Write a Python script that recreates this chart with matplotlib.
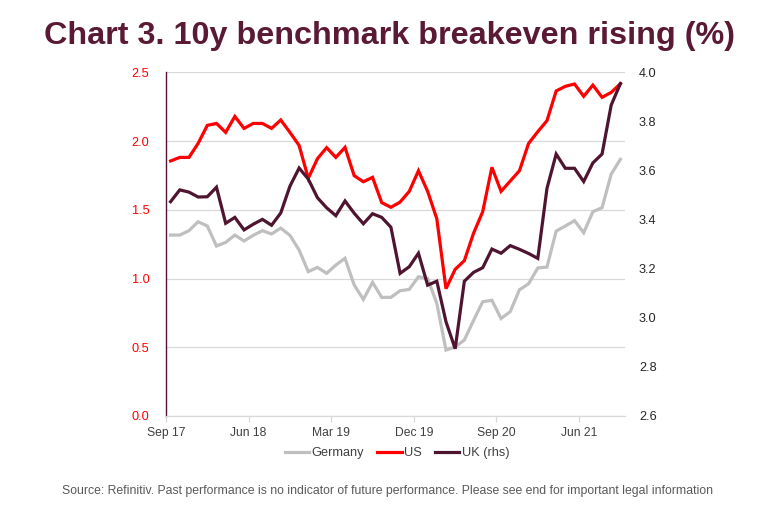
import matplotlib
matplotlib.use("Agg")
import matplotlib.pyplot as plt
from matplotlib.lines import Line2D

plt.rcParams['font.family'] = ['Liberation Sans', 'DejaVu Sans']

# ---- data (monthly, Sep 2017 - Oct 2021) ----
germany = [1.316, 1.316, 1.348, 1.413, 1.382, 1.236, 1.263, 1.316, 1.273, 1.314,
           1.348, 1.324, 1.367, 1.314, 1.207, 1.050, 1.081, 1.038, 1.098, 1.147,
           0.953, 0.848, 0.972, 0.863, 0.863, 0.911, 0.921, 1.013, 1.000, 0.820,
           0.480, 0.502, 0.553, 0.695, 0.831, 0.842, 0.709, 0.759, 0.918, 0.962,
           1.077, 1.083, 1.345, 1.382, 1.421, 1.333, 1.486, 1.515, 1.760, 1.867]
us = [1.855, 1.881, 1.881, 1.983, 2.114, 2.128, 2.063, 2.179, 2.092, 2.128,
      2.128, 2.092, 2.153, 2.063, 1.968, 1.729, 1.872, 1.952, 1.881, 1.954,
      1.748, 1.704, 1.736, 1.552, 1.518, 1.556, 1.634, 1.784, 1.634, 1.435,
      0.926, 1.067, 1.130, 1.329, 1.486, 1.809, 1.634, 1.709, 1.784, 1.983,
      2.068, 2.148, 2.364, 2.398, 2.415, 2.325, 2.407, 2.318, 2.354, 2.417]
uk = [3.473, 3.521, 3.512, 3.492, 3.493, 3.532, 3.385, 3.409, 3.358, 3.381,
      3.401, 3.377, 3.427, 3.536, 3.610, 3.565, 3.489, 3.448, 3.416, 3.476,
      3.426, 3.383, 3.424, 3.409, 3.369, 3.181, 3.208, 3.263, 3.133, 3.149,
      2.984, 2.874, 3.149, 3.185, 3.204, 3.280, 3.263, 3.294, 3.279, 3.262,
      3.242, 3.527, 3.667, 3.609, 3.609, 3.555, 3.631, 3.667, 3.867, 3.954]
tick_labels = ["Sep 17", "Jun 18", "Mar 19", "Dec 19", "Sep 20", "Jun 21"]
tick_months = [0, 9, 18, 27, 36, 45]
left_ticks = [0.0, 0.5, 1.0, 1.5, 2.0, 2.5]
right_ticks = [2.6, 2.8, 3.0, 3.2, 3.4, 3.6, 3.8, 4.0]

x = [i + 0.5 for i in range(len(us))]

C_GER = "#bfbfbf"
C_US = "#ff0000"
C_UK = "#4f1530"
C_TITLE = "#5a1a35"
C_GRID = "#d9d9d9"

fig = plt.figure(figsize=(7.8, 5.18), dpi=100)
ax = fig.add_axes([166/780, 1-416/518, (625-166)/780, (416-72.3)/518])
ax2 = ax.twinx()

ax.plot(x, germany, color=C_GER, lw=2.3, solid_joinstyle='miter')
ax.plot(x, us, color=C_US, lw=2.3, solid_joinstyle='miter')
ax2.plot(x, uk, color=C_UK, lw=2.3, solid_joinstyle='miter')

ax.set_xlim(0, 50)
ax.set_ylim(0, 2.5)
ax2.set_ylim(2.6, 4.0)
ax.set_yticks(left_ticks)
ax.set_yticklabels([f"{v:.1f}" for v in left_ticks])
ax2.set_yticks(right_ticks)
ax2.set_yticklabels([f"{v:.1f}" for v in right_ticks])
ax.set_xticks(tick_months)
ax.set_xticklabels(tick_labels)

ax.grid(axis='y', color=C_GRID, lw=0.9)
ax.set_axisbelow(True)
for s in ['top', 'right']:
    ax.spines[s].set_visible(False)
for s in ['top', 'right', 'left', 'bottom']:
    ax2.spines[s].set_visible(False)
ax.spines['left'].set_color(C_UK)
ax.spines['left'].set_linewidth(1.0)
ax.spines['bottom'].set_color(C_GRID)
ax.spines['bottom'].set_linewidth(0.9)

ax.tick_params(axis='y', length=0, pad=12, labelsize=9.2, labelcolor=C_US)
ax2.tick_params(axis='y', length=0, pad=10, labelsize=9.2, labelcolor="#262626")
ax.tick_params(axis='x', length=4, width=0.9, color=C_GRID, pad=4,
               labelsize=8.7, labelcolor="#404040")

fig.text(0.5, 0.930, "Chart 3. 10y benchmark breakeven rising (%)",
         ha='center', va='center', fontsize=23.3, fontweight='bold', color=C_TITLE)

handles = [Line2D([], [], color=C_GER, lw=2.3),
           Line2D([], [], color=C_US, lw=2.3),
           Line2D([], [], color=C_UK, lw=2.3)]
fig.legend(handles, ["Germany", "US", "UK (rhs)"], loc='center',
           bbox_to_anchor=(397/780, 1-453/518), ncol=3, frameon=False,
           fontsize=9.2, labelcolor="#404040", handlelength=1.92,
           handletextpad=0.2, columnspacing=1.0)

fig.text(388/780, 1-491/518,
         "Source: Refinitiv. Past performance is no indicator of future performance. "
         "Please see end for important legal information",
         ha='center', va='center', fontsize=8.8, color="#595959")

fig.savefig("out.png", dpi=100)
